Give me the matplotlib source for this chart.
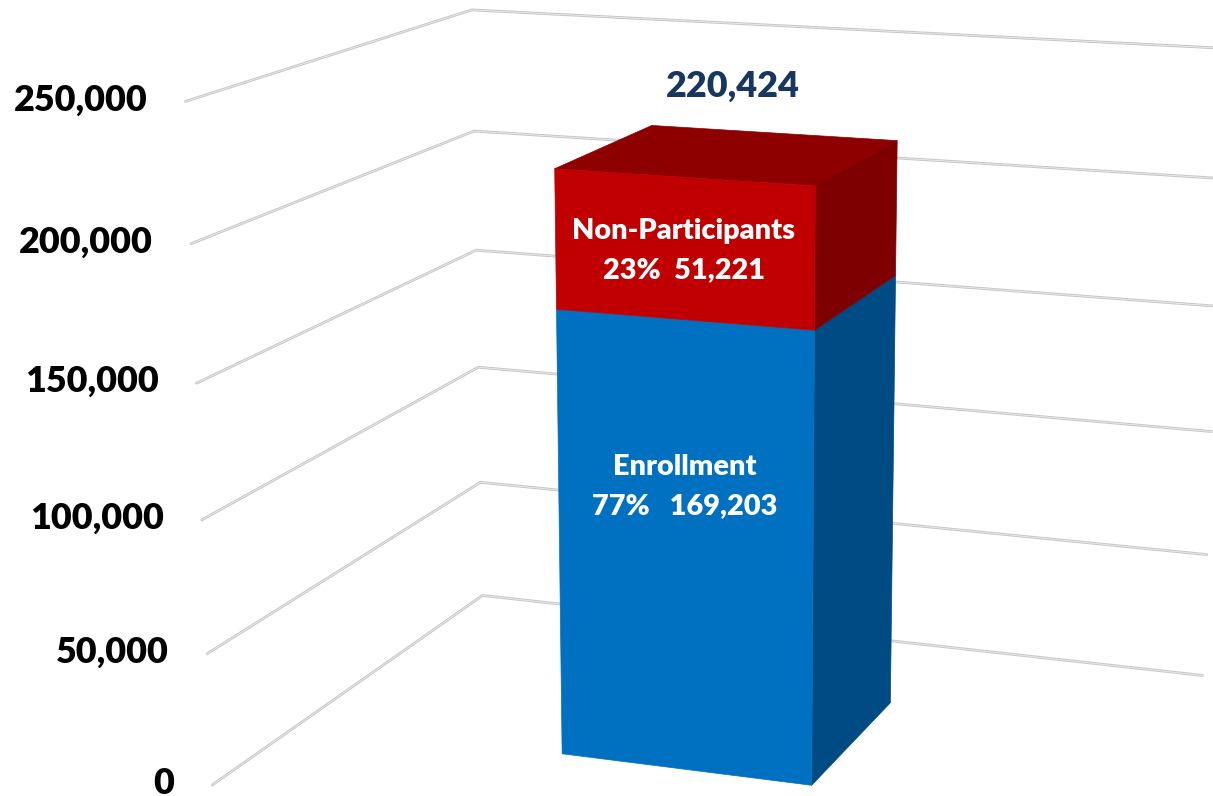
import numpy as np
import matplotlib
matplotlib.use('Agg')
import matplotlib.pyplot as plt
from matplotlib import transforms as mtransforms
from mpl_toolkits.mplot3d import proj3d
from mpl_toolkits.mplot3d.art3d import Poly3DCollection

# Stacked 3-D column: enrollment vs. non-participants
series_names = ['Enrollment', 'Non-Participants']
series_values = [169203, 51221]
label_gaps = ['   ', '  ']
label_heights = [0.64, 0.5]          # label anchor as a fraction of each segment
front_colors = ['#0070C0', '#C00000']
side_colors = ['#004B84', '#7F0000']
top_colors = ['#005A9C', '#8E0000']
y_ticks = [0, 50000, 100000, 150000, 200000, 250000]
y_max = 250000

total = sum(series_values)
FONT = ['Lato', 'DejaVu Sans']
WEIGHT = 'heavy'

fig = plt.figure(figsize=(12.13, 7.96), dpi=100)
fig.patch.set_facecolor('white')
ax = fig.add_axes([0.08339, -0.30290, 1.00907, 1.53770], projection='3d')
ax.view_init(elev=14.4122, azim=-70.1895, roll=0)
ax.set_proj_type('persp', focal_length=0.52646)
ax.set_xlim(-0.5, 0.5)
ax.set_ylim(-0.5, 0.5)
ax.set_zlim(0, y_max)
ax.set_box_aspect((1.2442, 0.9702, 1.0))
ax.set_axis_off()
ax.computed_zorder = False

# wall gridlines: side wall (x = -0.5) and back wall (y = 0.5)
for t in y_ticks:
    xs, ys, zs = [-0.5, -0.5, 0.5], [-0.5, 0.5, 0.5], [t, t, t]
    ax.plot(xs, ys, zs, color='#c6c6c6', lw=2.0, solid_capstyle='round',
            solid_joinstyle='round', zorder=1)
    ax.plot(xs, ys, zs, color='#ececec', lw=0.6, solid_capstyle='round',
            solid_joinstyle='round', zorder=1.1)

# column geometry
bar_w, bar_d = 0.314, 0.396
x0, x1 = -bar_w / 2, bar_w / 2
y0, y1 = -bar_d / 2, bar_d / 2
bottoms = np.concatenate([[0], np.cumsum(series_values)[:-1]])

for i, (val, z0) in enumerate(zip(series_values, bottoms)):
    z1 = z0 + val
    front = [(x0, y0, z0), (x1, y0, z0), (x1, y0, z1), (x0, y0, z1)]
    side = [(x1, y0, z0), (x1, y1, z0), (x1, y1, z1), (x1, y0, z1)]
    faces, cols = [front, side], [front_colors[i], side_colors[i]]
    if i == len(series_values) - 1:
        faces.append([(x0, y0, z1), (x1, y0, z1), (x1, y1, z1), (x0, y1, z1)])
        cols.append(top_colors[i])
    pc = Poly3DCollection(faces, facecolors=cols, edgecolors=cols,
                          linewidths=0.5, zorder=2 + i)
    ax.add_collection3d(pc)

M = ax.get_proj()


def to2d(x, y, z):
    u, v, _ = proj3d.proj_transform(x, y, z, M)
    return float(u), float(v)


def shifted(dx, dy):
    return mtransforms.offset_copy(ax.transData, fig=fig, x=dx, y=dy, units='dots')


# value-axis labels at the front end of each gridline
for t in y_ticks:
    u, v = to2d(-0.5, -0.5, t)
    ax.text2D(u, v, f'{t:,}', transform=shifted(-38, -9), ha='right',
              va='baseline', fontsize=25.8, fontweight=WEIGHT, family=FONT,
              color='black', zorder=5)

# segment labels on the front face
for i, (name, val, z0) in enumerate(zip(series_names, series_values, bottoms)):
    u, v = to2d(0.0, y0, z0 + label_heights[i] * val)
    pct = val / total
    ax.text2D(u, v, name, transform=shifted(0, 9.5), ha='center', va='baseline',
              fontsize=20.8, fontweight=WEIGHT, family=FONT, color='white', zorder=6)
    ax.text2D(u, v, f'{pct:.0%}{label_gaps[i]}{val:,}', transform=shifted(0, -29),
              ha='center', va='baseline', fontsize=20.8, fontweight=WEIGHT,
              family=FONT, color='white', zorder=6)

# total above the column
u, v = to2d(0.0, 0.0, total)
ax.text2D(u, v, f'{total:,}', transform=shifted(3, 58), ha='center', va='baseline',
          fontsize=25.8, fontweight=WEIGHT, family=FONT, color='#17375E', zorder=6)

fig.savefig('out.png', dpi=100, facecolor='white')
